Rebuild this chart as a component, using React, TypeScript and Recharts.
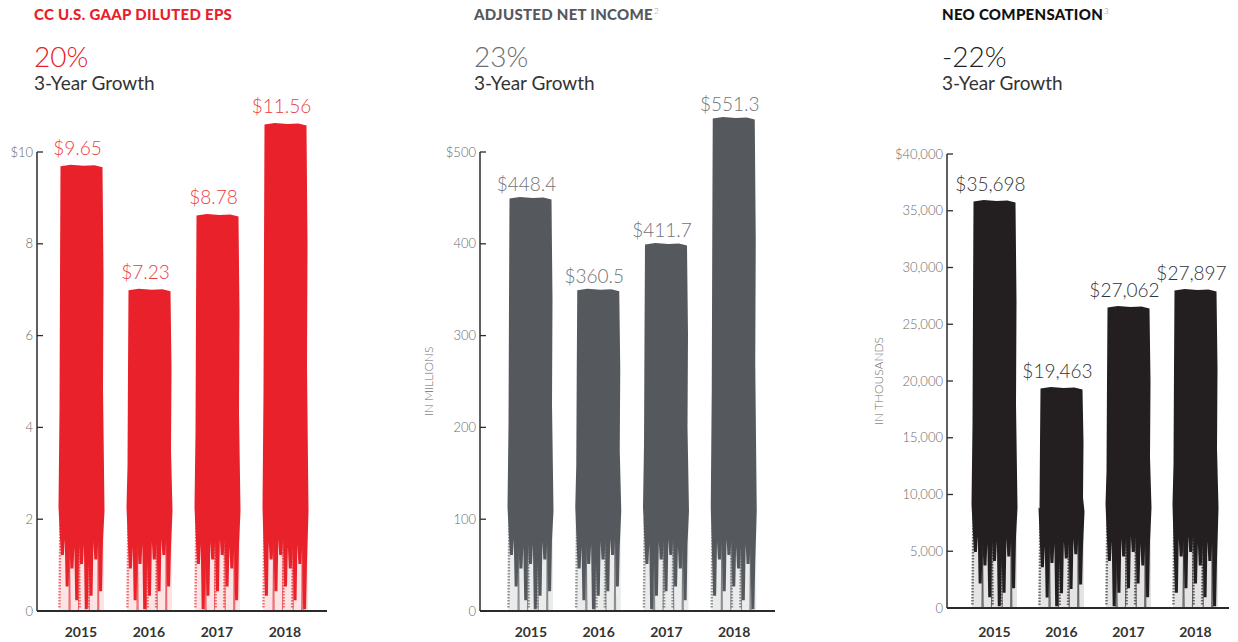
import React from 'react';
import { BarChart, Bar, XAxis, YAxis, LabelList, Label } from 'recharts';

const FONT = 'Lato, "Noto Sans", sans-serif';
const AXIS = '#2b2b2b';

const years = ['2015', '2016', '2017', '2018'];

// CC U.S. GAAP diluted EPS, $ (printed values + painted bar heights)
const epsValues = [9.65, 7.23, 8.78, 11.56];
const epsPainted = [9.72, 7.02, 8.65, 10.63];
const epsTicks = [0, 2, 4, 6, 8, 10];

// adjusted net income, $ millions
const incomeValues = [448.4, 360.5, 411.7, 551.3];
const incomePainted = [451, 351, 401, 538];
const incomeTicks = [0, 100, 200, 300, 400, 500];

// NEO compensation, $ thousands
const neoValues = [35698, 19463, 27062, 27897];
const neoPainted = [35950, 19470, 26610, 28110];
const neoTicks = [0, 5000, 10000, 15000, 20000, 25000, 30000, 35000, 40000];

const rows = (values: number[], painted: number[]) =>
  years.map((year, i) => ({ year, value: values[i], bar: painted[i] }));

// brush stroke look: fixed ragged bottom pattern (decoration only)
const TEETH = [0.4, 0.75, 0.55, 0.9, 0.5, 1.0, 0.85, 0.45, 0.8];

function BrushBar(props: any) {
  const { x, y, width: w, height: h, fill, index = 0 } = props;
  if (!(h > 0)) return null;
  const bottom = y + h;
  const fade = Math.min(92, h * 0.4);
  const solidEnd = bottom - fade;
  const n = TEETH.length;
  const t = (i: number) => TEETH[(i + index * 2) % n];
  const pts: number[][] = [];
  pts.push([x + 0.5, y + 1.5], [x + w * 0.25, y], [x + w * 0.55, y + 1], [x + w * 0.8, y + 0.5], [x + w - 0.5, y + 2.5]);
  pts.push([x + w + 0.5, y + h * 0.25], [x + w, y + h * 0.5], [x + w + 1.5, solidEnd - 8]);
  for (let i = n - 1; i >= 0; i--) {
    const xr = x + (w * (i + 1)) / n;
    const xc = x + (w * (i + 0.5)) / n;
    const deep = solidEnd + fade * t(i) * 0.98;
    pts.push([xr, solidEnd + fade * Math.min(t(i), t(i + 1)) * 0.55]);
    pts.push([xc + 1.5, deep], [xc - 1.5, deep]);
  }
  pts.push([x - 1.5, solidEnd - 12], [x - 0.5, y + h * 0.55], [x, y + h * 0.25]);
  const d = 'M' + pts.map((p) => p.join(',')).join('L') + 'Z';
  return (
    <g>
      <rect x={x - 1} y={solidEnd} width={w + 2} height={fade} fill={fill} opacity={0.12} />
      {TEETH.map((_, i) => {
        const xc = x + (w * (i + 0.5)) / n + (i % 2 ? 2 : -2);
        return (
          <line
            key={i}
            x1={xc}
            y1={solidEnd}
            x2={xc + (i % 2 ? 1 : -1)}
            y2={bottom - 2 + (i % 3) * 1.5}
            stroke={fill}
            strokeWidth={i % 3 === 0 ? 2.5 : 1.2}
            strokeDasharray={i % 3 === 0 ? '1.5 1.5' : undefined}
            opacity={0.6}
          />
        );
      })}
      <path d={d} fill={fill} />
    </g>
  );
}

function makeTick(fmt: (v: number) => string) {
  return (p: any) => (
    <g>
      <line x1={p.x} y1={p.y} x2={p.x + 6} y2={p.y} stroke={AXIS} strokeWidth={1.3} />
      <text
        x={p.x - 4}
        y={p.y}
        dy="0.35em"
        textAnchor="end"
        fontSize={13}
        fontWeight={300}
        fill="#6a6a6a"
        fontFamily={FONT}
      >
        {fmt(p.payload.value)}
      </text>
    </g>
  );
}

function sideLabel(text: string, dx: number) {
  return (p: any) => {
    const vb = p.viewBox || {};
    const cx = vb.x + dx;
    const cy = vb.y + vb.height / 2;
    return (
      <text
        x={cx}
        y={cy}
        transform={`rotate(-90, ${cx}, ${cy})`}
        textAnchor="middle"
        dominantBaseline="central"
        fontSize={12}
        fontWeight={300}
        fill="#6a6a6a"
        fontFamily={FONT}
      >
        {text}
      </text>
    );
  };
}

type PanelProps = {
  left: number;
  width: number;
  margin: { top: number; right: number; left: number; bottom: number };
  yWidth: number;
  xHeight: number;
  xPadding: { left: number; right: number };
  data: { year: string; value: number; bar: number }[];
  ticks: number[];
  tickFmt: (v: number) => string;
  labelFmt: (v: number) => string;
  color: string;
  labelColor: string;
  labelOffset: number;
  sideText?: string;
  sideDx?: number;
};

function Panel(p: PanelProps) {
  const top = p.ticks[p.ticks.length - 1];
  return (
    <div style={{ position: 'absolute', left: p.left, top: 60 }}>
      <BarChart width={p.width} height={580} data={p.data} margin={p.margin}>
        <XAxis
          dataKey="year"
          tickLine={false}
          tickSize={0}
          tickMargin={p.xHeight - 13}
          height={p.xHeight}
          padding={p.xPadding}
          axisLine={{ stroke: AXIS, strokeWidth: 2 }}
          tick={{ fontSize: 14, fontWeight: 700, fill: '#333', fontFamily: FONT }}
        />
        <YAxis
          width={p.yWidth}
          domain={[0, top]}
          allowDataOverflow
          ticks={p.ticks}
          tickLine={false}
          tickSize={0}
          tickMargin={0}
          axisLine={{ stroke: AXIS, strokeWidth: 1.5 }}
          tick={makeTick(p.tickFmt)}
        >
          {p.sideText ? <Label content={sideLabel(p.sideText, p.sideDx ?? 0)} /> : null}
        </YAxis>
        <Bar dataKey="bar" fill={p.color} barSize={43} shape={<BrushBar />} isAnimationActive={false}>
          <LabelList
            dataKey="value"
            position="top"
            offset={p.labelOffset}
            dx={-4}
            formatter={(v: any) => p.labelFmt(Number(v))}
            fill={p.labelColor}
            fontSize={19}
            fontWeight={300}
            fontFamily={FONT}
          />
        </Bar>
      </BarChart>
    </div>
  );
}

function Heading(props: {
  left: number;
  title: string;
  sup?: string;
  titleColor: string;
  growth: string;
  growthColor: string;
}) {
  return (
    <div style={{ position: 'absolute', left: props.left, top: 0, fontFamily: FONT }}>
      <div
        style={{
          position: 'absolute',
          top: 5,
          whiteSpace: 'nowrap',
          fontSize: 15,
          fontWeight: 900,
          letterSpacing: 0.3,
          color: props.titleColor,
        }}
      >
        {props.title}
        {props.sup ? (
          <sup style={{ fontSize: 8, fontWeight: 300, color: '#888', verticalAlign: 6, marginLeft: 1 }}>
            {props.sup}
          </sup>
        ) : null}
      </div>
      <div
        style={{
          position: 'absolute',
          top: 39,
          whiteSpace: 'nowrap',
          fontSize: 28,
          fontWeight: 300,
          color: props.growthColor,
        }}
      >
        {props.growth}
      </div>
      <div style={{ position: 'absolute', top: 71, whiteSpace: 'nowrap', fontSize: 19, color: '#333' }}>
        3-Year Growth
      </div>
    </div>
  );
}

const fmtPlain = (v: number) => v.toLocaleString('en-US');

export default function App() {
  return (
    <div
      style={{
        position: 'absolute',
        left: 0,
        top: 0,
        width: 1238,
        height: 642,
        overflow: 'hidden',
        background: '#fff',
      }}
    >
      {/* painted bars run past the top tick, so no clipping of the bar layer */}
      <style>{`.recharts-bar, .recharts-bar *, .recharts-label-list { clip-path: none !important; }`}</style>
      <Heading left={34} title="CC U.S. GAAP DILUTED EPS" titleColor="#e8202a" growth="20%" growthColor="#e8202a" />
      <Heading left={474} title="ADJUSTED NET INCOME" sup="2" titleColor="#55585d" growth="23%" growthColor="#6b6e73" />
      <Heading left={942} title="NEO COMPENSATION" sup="3" titleColor="#111" growth="-22%" growthColor="#222" />

      <Panel
        left={0}
        width={340}
        margin={{ top: 92, right: 13, left: 0, bottom: 0 }}
        yWidth={37}
        xHeight={29}
        xPadding={{ left: 10, right: 8 }}
        data={rows(epsValues, epsPainted)}
        ticks={epsTicks}
        tickFmt={(v) => (v === 10 ? '$10' : String(v))}
        labelFmt={(v) => `$${v.toFixed(2)}`}
        color="#e9212a"
        labelColor="#ec3b43"
        labelOffset={10}
      />
      <Panel
        left={400}
        width={385}
        margin={{ top: 92, right: 10, left: 0, bottom: 0 }}
        yWidth={80}
        xHeight={29}
        xPadding={{ left: 17, right: 7 }}
        data={rows(incomeValues, incomePainted)}
        ticks={incomeTicks}
        tickFmt={(v) => (v === 500 ? '$500' : String(v))}
        labelFmt={(v) => `$${v.toFixed(1)}`}
        color="#55595e"
        labelColor="#707378"
        labelOffset={6}
        sideText="IN MILLIONS"
        sideDx={28}
      />
      <Panel
        left={860}
        width={378}
        margin={{ top: 94, right: 9, left: 0, bottom: 0 }}
        yWidth={87}
        xHeight={32}
        xPadding={{ left: 14, right: 0 }}
        data={rows(neoValues, neoPainted)}
        ticks={neoTicks}
        tickFmt={(v) => (v === 40000 ? '$40,000' : fmtPlain(v))}
        labelFmt={(v) => `$${fmtPlain(v)}`}
        color="#231f20"
        labelColor="#333"
        labelOffset={9}
        sideText="IN THOUSANDS"
        sideDx={18}
      />
    </div>
  );
}
